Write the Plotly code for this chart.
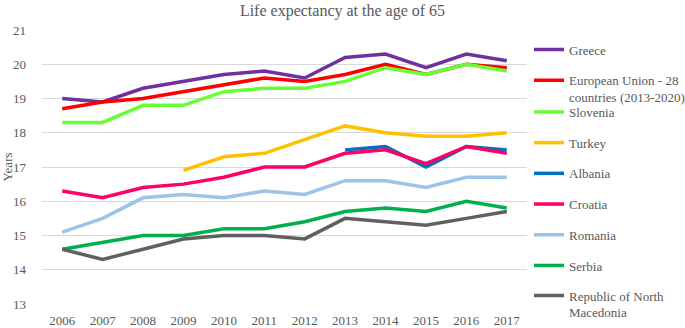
import plotly.graph_objects as go

years = ["2006","2007","2008","2009","2010","2011","2012","2013","2014","2015","2016","2017"]
greece    = [19.0,18.9,19.3,19.5,19.7,19.8,19.6,20.2,20.3,19.9,20.3,20.1]
eu28      = [18.7,18.9,19.0,19.2,19.4,19.6,19.5,19.7,20.0,19.7,20.0,19.9]
slovenia  = [18.3,18.3,18.8,18.8,19.2,19.3,19.3,19.5,19.9,19.7,20.0,19.8]
turkey    = [None,None,None,16.9,17.3,17.4,17.8,18.2,18.0,17.9,17.9,18.0]
albania   = [None,None,None,None,None,None,None,17.5,17.6,17.0,17.6,17.5]
croatia   = [16.3,16.1,16.4,16.5,16.7,17.0,17.0,17.4,17.5,17.1,17.6,17.4]
romania   = [15.1,15.5,16.1,16.2,16.1,16.3,16.2,16.6,16.6,16.4,16.7,16.7]
serbia    = [14.6,14.8,15.0,15.0,15.2,15.2,15.4,15.7,15.8,15.7,16.0,15.8]
macedonia = [14.6,14.3,14.6,14.9,15.0,15.0,14.9,15.5,15.4,15.3,15.5,15.7]

series = [
    ("Greece", greece, "#7030A0", "legend"),
    ("European Union - 28<br>countries (2013-2020)", eu28, "#FF0000", "legend"),
    ("Slovenia", slovenia, "#66FF33", "legend2"),
    ("Turkey", turkey, "#FFC000", "legend2"),
    ("Albania", albania, "#0070C0", "legend2"),
    ("Croatia", croatia, "#FF0066", "legend2"),
    ("Romania", romania, "#9DC3E6", "legend2"),
    ("Serbia", serbia, "#00B050", "legend2"),
    ("Republic of North<br>Macedonia", macedonia, "#606060", "legend3"),
]

fig = go.Figure()
for i, (name, vals, color, lg) in enumerate(series):
    fig.add_trace(go.Scatter(x=years, y=vals, name=name, mode="lines",
                             line=dict(color=color, width=3.5),
                             legend=lg, legendgroup=str(i)))

font = "Liberation Serif, Times New Roman, serif"
leg_common = dict(font=dict(family=font, size=13, color="#595959"),
                  xanchor="left", yanchor="top", tracegroupgap=10.8,
                  bgcolor="rgba(0,0,0,0)", valign="top", itemwidth=30,
                  xref="paper", yref="container", maxheight=300)

def cy(px):
    return 1 - px / 328.0

lx = (529 - 42) / 485.0

fig.update_layout(
    width=685, height=328,
    margin=dict(l=42, r=158, t=30, b=24, autoexpand=False),
    paper_bgcolor="white", plot_bgcolor="white",
    font=dict(family=font, size=13, color="#595959"),
    title=dict(text="Life expectancy at the age of 65", x=0.5, xanchor="center",
               xref="container", y=cy(10), yanchor="middle",
               font=dict(family=font, size=16, color="#595959")),
    xaxis=dict(type="category", range=[-0.5, 11.5], showgrid=False, ticks="",
               showline=False, zeroline=False, tickfont=dict(size=13),
               ticklabelstandoff=7),
    yaxis=dict(range=[13, 21], dtick=1, showgrid=True, gridcolor="#D9D9D9", gridwidth=1,
               zeroline=False, ticks="", tickfont=dict(size=13), ticklabelstandoff=15,
               title=dict(text="Years", font=dict(size=13), standoff=5)),
    legend=dict(x=lx, y=cy(34.5), **leg_common),
    legend2=dict(x=lx, y=cy(97), **leg_common),
    legend3=dict(x=lx, y=cy(280.5), **leg_common),
)

fig.write_html("out.html", config={"displayModeBar": False},
               post_script="document.body.style.margin='0';")
